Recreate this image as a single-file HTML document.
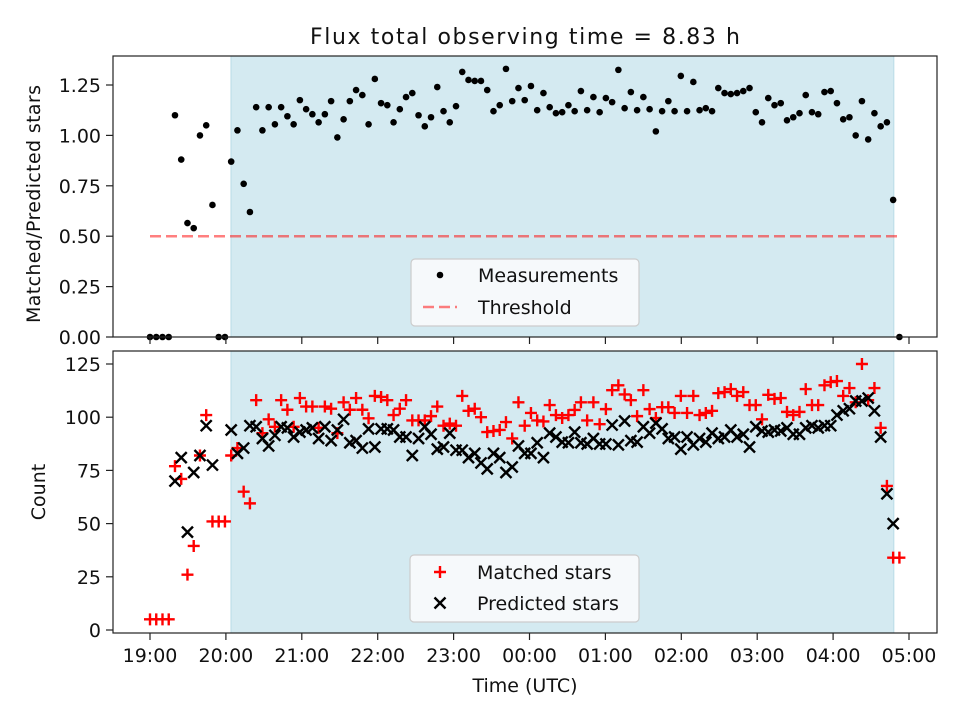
<!DOCTYPE html>
<html><head><meta charset="utf-8"><style>
body{margin:0;background:#fff}
svg{display:block;font-family:"DejaVu Sans","Liberation Sans",sans-serif}
</style></head><body>
<svg id="fig" width="960" height="720" viewBox="0 0 960 720" xmlns="http://www.w3.org/2000/svg"></svg>
<script>
// ---- data ----
const startLabel = "19:00";
const cadenceHours = 0.08228; // observation cadence
const ratioValues = [0,0,0,0,1.10,0.88,0.565,0.54,1.0,1.05,0.655,0,0,0.87,1.025,0.76,0.62,1.14,1.025,1.14,1.055,1.14,1.095,1.055,1.175,1.13,1.105,1.065,1.105,1.17,0.99,1.08,1.17,1.225,1.2,1.055,1.28,1.16,1.15,1.065,1.13,1.19,1.21,1.10,1.045,1.09,1.24,1.12,1.065,1.145,1.315,1.275,1.27,1.27,1.225,1.12,1.15,1.33,1.17,1.235,1.175,1.245,1.125,1.21,1.14,1.11,1.115,1.15,1.12,1.22,1.125,1.19,1.115,1.185,1.165,1.325,1.135,1.215,1.125,1.19,1.13,1.02,1.12,1.17,1.12,1.295,1.12,1.265,1.125,1.135,1.12,1.235,1.21,1.205,1.21,1.22,1.235,1.115,1.065,1.185,1.15,1.16,1.075,1.09,1.11,1.2,1.115,1.105,1.215,1.22,1.16,1.08,1.09,1.0,1.17,0.98,1.11,1.045,1.065,0.68,0];
const matchedValues = [5,5,5,5,77,71,26,39.5,82,101,51,51,51,82,85.5,65,59.5,108,92.5,99,95.5,108,103.5,95.5,109,105,105,95,105,104,92.5,107,103.5,109,103.5,99.5,110,109.5,108,101,104,108,98.5,98.5,98.5,100.5,105,96,97,96,110,103,104,100,93,93.5,94,97.7,90,107,96,102,98.5,98,105.7,101,99.6,101,103.4,107,98.5,107,96.7,103.8,112.7,115,110.7,108,100.5,112.7,103.8,99.6,104.7,104.7,102,110,102,110,101,102,103,111.3,111.8,113.2,110,111.8,105.7,105.7,99,110.5,108.6,109,102.5,101,102.5,113.2,105.7,105.7,115,116.5,117,110,113.7,107,125,108,113.7,95,67.7,34,34];
const predictedValues = [null,null,null,null,70,81,46,74,82,96,77.5,null,null,94,83,85.5,96,95.5,90,86.5,91.5,95.5,95,90.7,93,94,95,90,95.5,89,94,99,88,89,85.5,94.5,86,94.5,94.5,94,90.7,90.7,82,90,95.5,92,85,86,92.5,84.5,84.5,81,83,78.5,75.7,83,81,74,76.6,86.5,83,83,88,81,92.5,90.7,88.3,88,93,88,87.4,90,87.4,87.4,96.3,87,98.2,89,88.3,95.5,92.5,97.2,94.5,90,90.7,85,90.7,87,90,88.3,92.5,90,90.7,94,90.7,92,86,95.5,93.5,93,94,93.5,95,92,92,95,96,95,96,96,101,103,104,107.6,107.6,109,103,90.7,64,50,null];
const threshold = 0.5;
const xTickLabels = ["19:00","20:00","21:00","22:00","23:00","00:00","01:00","02:00","03:00","04:00","05:00"];
const topTickLabels = ["0.00","0.25","0.50","0.75","1.00","1.25"];
const topTickValues = [0,0.25,0.5,0.75,1.0,1.25];
const botTickValues = [0,25,50,75,100,125];
const windowStart = 1.067, windowEnd = 9.80; // hours after 19:00
const thrStart = 0, thrEnd = 9.87;

// ---- axes ----
const X = h => 150 + h*75.9;
const Ytop = v => 337 - v*201.6;
const Ybot = v => 630 - v*2.128;
const NS = "http://www.w3.org/2000/svg";
const svg = document.getElementById('fig');
function mk(tag, attrs, parent){const e=document.createElementNS(NS,tag);for(const k in attrs)e.setAttribute(k,attrs[k]);(parent||svg).appendChild(e);return e;}
function txt(s, attrs, parent){const e=mk('text',attrs,parent);e.textContent=s;return e;}

function panel(y0,y1,name){
  const g=mk('g',{});
  
  
  const sh=mk('rect',{x:X(windowStart),y:y0,width:X(windowEnd)-X(windowStart),height:y1-y0,fill:'#d4eaf1',stroke:'#b9dbe6','stroke-width':1},g);
  
  
  return g;
}
function frame(y0,y1,g){
  const f=mk('rect',{x:113,y:y0,width:824,height:y1-y0,fill:'none',stroke:'#222','stroke-width':1.2},g);
  
  
}

// top panel
const gTop = panel(56,337,'ratio-panel');
const thr=mk('line',{x1:X(thrStart),x2:X(thrEnd),y1:Ytop(threshold),y2:Ytop(threshold),stroke:'rgba(255,0,0,0.5)','stroke-width':2.5,'stroke-dasharray':'11 5'},gTop);


ratioValues.forEach((v,i)=>{
  if(v==null)return;
  const c=mk('circle',{cx:X(i*cadenceHours),cy:Ytop(v),r:3.3,fill:'#000'},gTop);
  
  
});
frame(56,337,gTop);
topTickValues.forEach((v,i)=>{
  const y=Ytop(v);
  mk('line',{x1:106,x2:113,y1:y,y2:y,stroke:'#222','stroke-width':1.2},gTop);
  const t=txt(topTickLabels[i],{x:101,y:y+7,'font-size':19,'text-anchor':'end',fill:'#111'},gTop);
  
  
});
xTickLabels.forEach((l,i)=>{mk('line',{x1:X(i),x2:X(i),y1:337,y2:344,stroke:'#222','stroke-width':1.2},gTop);});

// bottom panel
const gBot = panel(351,633,'count-panel');
matchedValues.forEach((v,i)=>{
  if(v==null)return;
  const x=X(i*cadenceHours), y=Ybot(v);
  const p=mk('path',{d:`M${x-6},${y}H${x+6}M${x},${y-6}V${y+6}`,stroke:'#f00','stroke-width':2.4,fill:'none'},gBot);
  
  
});
predictedValues.forEach((v,i)=>{
  if(v==null)return;
  const x=X(i*cadenceHours), y=Ybot(v);
  const p=mk('path',{d:`M${x-5.5},${y-5.5}L${x+5.5},${y+5.5}M${x-5.5},${y+5.5}L${x+5.5},${y-5.5}`,stroke:'#000','stroke-width':2.4,fill:'none'},gBot);
  
  
});
frame(351,633,gBot);
botTickValues.forEach(v=>{
  const y=Ybot(v);
  mk('line',{x1:106,x2:113,y1:y,y2:y,stroke:'#222','stroke-width':1.2},gBot);
  const t=txt(String(v),{x:101,y:y+7,'font-size':19,'text-anchor':'end',fill:'#111'},gBot);
  
  
});
xTickLabels.forEach((l,i)=>{
  mk('line',{x1:X(i),x2:X(i),y1:633,y2:640,stroke:'#222','stroke-width':1.2},gBot);
  const t=txt(l,{x:X(i),y:662,'font-size':19,'text-anchor':'middle',fill:'#111'},gBot);
  
  
});

// titles
const title=txt('Flux total observing time = 8.83 h',{x:525,y:44,'font-size':22,'text-anchor':'middle',textLength:430,fill:'#111'});


const xl=txt('Time (UTC)',{x:525,y:692,'font-size':19,'text-anchor':'middle',fill:'#111'});


const yl1=txt('Matched/Predicted stars',{x:0,y:0,'font-size':19,'text-anchor':'middle',textLength:238,transform:'translate(40,204) rotate(-90)',fill:'#111'});


const yl2=txt('Count',{x:0,y:0,'font-size':19,'text-anchor':'middle',transform:'translate(45,492) rotate(-90)',fill:'#111'});



// legends
const lg1=mk('g',{});


mk('rect',{x:411,y:259,width:228,height:67,rx:4,fill:'#f6f9fb',stroke:'#cccccc','stroke-width':1.2},lg1);
mk('circle',{cx:440,cy:275,r:3.3,fill:'#000'},lg1);
const l1=txt('Measurements',{x:478,y:282,'font-size':19,fill:'#111'},lg1);


mk('line',{x1:423,x2:457,y1:307,y2:307,stroke:'rgba(255,0,0,0.5)','stroke-width':2.5,'stroke-dasharray':'11 5'},lg1);
const l2=txt('Threshold',{x:478,y:314,'font-size':19,fill:'#111'},lg1);



const lg2=mk('g',{});


mk('rect',{x:410,y:555,width:229,height:67,rx:4,fill:'#f6f9fb',stroke:'#cccccc','stroke-width':1.2},lg2);
mk('path',{d:'M434,572H446M440,566V578',stroke:'#f00','stroke-width':2.4},lg2);
const l3=txt('Matched stars',{x:477,y:579,'font-size':19,fill:'#111'},lg2);


mk('path',{d:'M434.5,597.5L445.5,608.5M434.5,608.5L445.5,597.5',stroke:'#000','stroke-width':2.4},lg2);
const l4=txt('Predicted stars',{x:477,y:610,'font-size':19,fill:'#111'},lg2);


</script>
</body></html>
